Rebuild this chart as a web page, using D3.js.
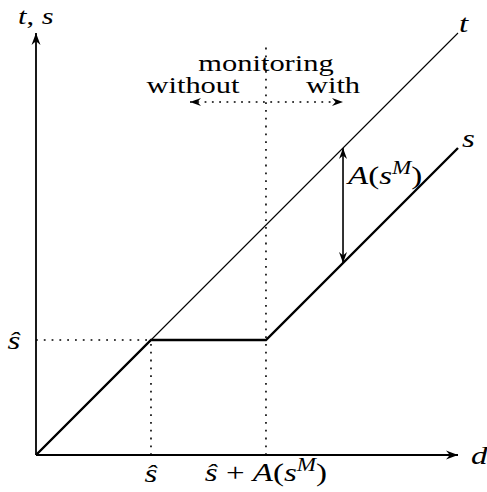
<!DOCTYPE html>
<html>
<head>
<meta charset="utf-8">
<script src="https://cdn.jsdelivr.net/npm/d3@7"></script>
<style>
  html, body { margin: 0; padding: 0; background: #fff; }
  svg { display: block; }
  text { font-family: "Liberation Serif", "DejaVu Serif", serif; fill: #000; }
</style>
</head>
<body>
<svg id="chart" width="487" height="492"></svg>
<script>
// Model quantities (units where the threshold ŝ = 1)
const sHat = 1;          // threshold ŝ
const aSM = 1;           // A(s^M)
const dMax = 3.67;       // extent of both axes
const arrowD = 2.67;     // d at which the gap A(s^M) is marked

// Lines drawn on the (d, t/s) plane
const tLine = [[0, 0], [dMax, dMax]];
const sLine = [[0, 0], [sHat, sHat], [sHat + aSM, sHat], [dMax, dMax - aSM]];

// Tick positions on the axes
const xTickValues = [sHat, sHat + aSM];
const yTickValues = [sHat];

const svg = d3.select("#chart");
const x = d3.scaleLinear().domain([0, dMax]).range([36, 458]);
const y = d3.scaleLinear().domain([0, dMax]).range([455, 33]);

const defs = svg.append("defs");
function arrowMarker(id, len, half) {
  defs.append("marker")
    .attr("id", id)
    .attr("markerUnits", "userSpaceOnUse")
    .attr("viewBox", `${-len - 1} ${-half - 1} ${len + 2} ${2 * half + 2}`)
    .attr("refX", 0).attr("refY", 0)
    .attr("markerWidth", len + 2).attr("markerHeight", 2 * half + 2)
    .attr("orient", "auto-start-reverse")
    .append("path")
    .attr("d", `M0,0 L${-len},${-half} L${-len * 0.68},0 L${-len},${half} Z`)
    .attr("fill", "#000");
}
arrowMarker("head", 12, 4.5);
arrowMarker("headSmall", 11, 4);

const line = d3.line().x(d => x(d[0])).y(d => y(d[1]));

// Dotted guides
const dots = svg.append("g")
  .attr("stroke", "#000").attr("stroke-width", 1.6)
  .attr("stroke-dasharray", "1.8,6").attr("fill", "none");
dots.append("path").attr("d", line([[0, sHat], [sHat, sHat]]));
dots.append("path").attr("d", line([[sHat, 0], [sHat, sHat]]));
dots.append("path").attr("d", `M${x(sHat + aSM)},${y(0)}V47`);

// Dotted double arrow: without / with monitoring
svg.append("path")
  .attr("d", "M190,102H343")
  .attr("stroke", "#000").attr("stroke-width", 1.6)
  .attr("stroke-dasharray", "1.8,5.5").attr("fill", "none")
  .attr("marker-start", "url(#headSmall)")
  .attr("marker-end", "url(#headSmall)");

// Axes
svg.append("path")
  .attr("d", `M${x(0)},${y(0)}H${x(dMax)}`)
  .attr("stroke", "#000").attr("stroke-width", 1.8).attr("fill", "none")
  .attr("marker-end", "url(#head)");
svg.append("path")
  .attr("d", `M${x(0)},${y(0)}V${y(dMax)}`)
  .attr("stroke", "#000").attr("stroke-width", 1.8).attr("fill", "none")
  .attr("marker-end", "url(#head)");

// t and s curves
svg.append("path").attr("d", line(tLine))
  .attr("stroke", "#000").attr("stroke-width", 1.1).attr("fill", "none");
svg.append("path").attr("d", line(sLine))
  .attr("stroke", "#000").attr("stroke-width", 2.4).attr("fill", "none")
  .attr("stroke-linejoin", "miter");

// Gap arrow A(s^M)
svg.append("path")
  .attr("d", `M${x(arrowD)},${y(arrowD)}V${y(arrowD - aSM)}`)
  .attr("stroke", "#000").attr("stroke-width", 1.6).attr("fill", "none")
  .attr("marker-start", "url(#headSmall)")
  .attr("marker-end", "url(#headSmall)");

// Text helper: pieces are [string, italic?, superscript?, back-to-baseline?]
const SX = 1.27;
function label(px, py, pieces, anchor, size) {
  const fs = size || 24;
  const g = svg.append("g").attr("transform", `translate(${px},${py}) scale(${SX},1)`);
  const t = g.append("text").attr("font-size", fs).attr("text-anchor", anchor || "start");
  pieces.forEach(p => {
    const ts = t.append("tspan").text(p[0]);
    if (p[1]) ts.attr("font-style", "italic");
    if (p[2]) ts.attr("font-size", fs * 0.7).attr("dy", -fs * 0.38);
    if (p[3]) ts.attr("dy", fs * 0.38);
  });
  return t;
}
const M = 26; // size of the math labels
const gapLabel = [["A", true], ["("], ["s", true], ["M", true, true], [")", false, false, true]];

label(18, 24, [["t", true], [", "], ["s", true]]);
label(266, 71, [["monitoring"]], "middle");
label(193, 93, [["without"]], "middle");
label(333, 93, [["with"]], "middle");
label(459, 32, [["t", true]], "start", M);
label(462, 147, [["s", true]], "start", M);
label(348, 184, gapLabel, "start", M);
label(471, 464, [["d", true]], "start", M);

yTickValues.forEach(v => label(14, y(v) + 9, [["ŝ", true]], "middle", M));
label(x(xTickValues[0]), 482, [["ŝ", true]], "middle", M);
label(x(xTickValues[1]), 481, [["ŝ", true], [" + "]].concat(gapLabel), "middle", M);
</script>
</body>
</html>
